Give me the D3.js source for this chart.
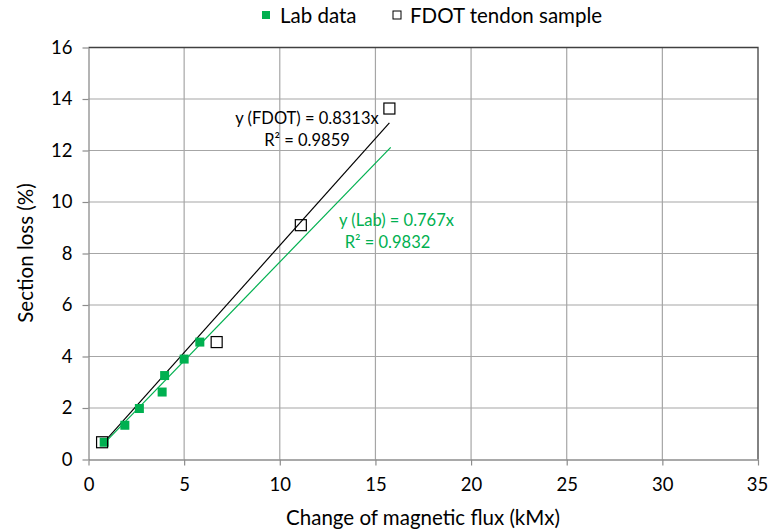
<!DOCTYPE html>
<html><head><meta charset="utf-8">
<script src="https://cdn.jsdelivr.net/npm/d3@7"></script>
<style>body{margin:0;background:#fff}svg{display:block}text{font-family:Lato,"Open Sans",sans-serif}</style>
</head><body><svg id="c" width="768" height="531"></svg>
<script>
const labX = [0.82, 1.9, 2.66, 3.85, 3.98, 5.0, 5.82];
const labY = [0.67, 1.33, 1.98, 2.62, 3.26, 3.9, 4.56];
const fdotX = [0.71, 6.7, 11.1, 15.73];
const fdotY = [0.67, 4.56, 9.1, 13.63];
const labSlope = 0.767, fdotSlope = 0.8313;
const labTrendRange = [0.82, 15.8];
const fdotTrendRange = [0.71, 15.73];
const xTicks = [0,5,10,15,20,25,30,35];
const yTicks = [0,2,4,6,8,10,12,14,16];
const green = "#00B050";

const svg = d3.select("#c");
const L=88.5, R=758, T=47.5, B=459.5;
const x = d3.scaleLinear().domain([0,35]).range([L,R]);
const y = d3.scaleLinear().domain([0,16]).range([B,T]);

// grid
svg.append("g").selectAll("line").data(xTicks.slice(1,-1)).join("line")
  .attr("x1",d=>x(d)).attr("x2",d=>x(d)).attr("y1",T).attr("y2",B)
  .attr("stroke","#a6a6a6").attr("stroke-width",1.2);
svg.append("g").selectAll("line").data(yTicks.slice(1,-1)).join("line")
  .attr("y1",d=>y(d)).attr("y2",d=>y(d)).attr("x1",L).attr("x2",R)
  .attr("stroke","#a6a6a6").attr("stroke-width",1.2);
// border top/right
svg.append("path").attr("d",`M${L},${T}H${R}V${B}`).attr("fill","none").attr("stroke","#404040").attr("stroke-width",1.3);

// axes
const xAxis = svg.append("g").attr("transform",`translate(0,${B})`)
  .call(d3.axisBottom(x).tickValues(xTicks).tickSize(6).tickPadding(12).tickSizeOuter(0));
const yAxis = svg.append("g").attr("transform",`translate(${L},0)`)
  .call(d3.axisLeft(y).tickValues(yTicks).tickSize(6).tickPadding(10).tickSizeOuter(0));
[xAxis,yAxis].forEach(a=>{
  a.select(".domain").attr("stroke","#8c8c8c").attr("stroke-width",1.3);
  a.selectAll(".tick line").attr("stroke","#8c8c8c").attr("stroke-width",1.2);
  a.selectAll(".tick text").attr("font-size",18.5).attr("fill","#000").style("font-family","Lato,'Open Sans',sans-serif");
});
xAxis.selectAll(".tick text").filter(d=>d===35).attr("dx",-1);

// trend lines
svg.append("line").attr("x1",x(fdotTrendRange[0])).attr("y1",y(fdotSlope*fdotTrendRange[0]))
  .attr("x2",x(fdotTrendRange[1])).attr("y2",y(fdotSlope*fdotTrendRange[1]))
  .attr("stroke","#000").attr("stroke-width",1.2);
svg.append("line").attr("x1",x(labTrendRange[0])).attr("y1",y(labSlope*labTrendRange[0]))
  .attr("x2",x(labTrendRange[1])).attr("y2",y(labSlope*labTrendRange[1]))
  .attr("stroke",green).attr("stroke-width",1.2);

// lab points
svg.append("g").selectAll("rect").data(labX.map((v,i)=>[v,labY[i]])).join("rect")
  .attr("x",d=>x(d[0])-4.5).attr("y",d=>y(d[1])-4.5).attr("width",9).attr("height",9)
  .attr("fill",green);
// fdot points
svg.append("g").selectAll("rect").data(fdotX.map((v,i)=>[v,fdotY[i]])).join("rect")
  .attr("x",d=>x(d[0])-5.5).attr("y",d=>y(d[1])-5.5).attr("width",11).attr("height",11)
  .attr("fill","none").attr("stroke","#000").attr("stroke-width",1.2);

// equations
const eq = svg.append("g").attr("font-size",16.5).style("white-space","pre");
eq.append("text").attr("x",307).attr("y",124).attr("text-anchor","middle").text("y (FDOT)  = 0.8313x");
eq.append("text").attr("x",307).attr("y",146).attr("text-anchor","middle").text("R\u00B2 = 0.9859");
eq.append("text").attr("x",396.5).attr("y",226).attr("text-anchor","middle").attr("fill",green).text("y (Lab)  = 0.767x");
eq.append("text").attr("x",387.5).attr("y",248).attr("text-anchor","middle").attr("fill",green).text("R\u00B2 = 0.9832");

// legend
const lg = svg.append("g").attr("font-size",20.5);
lg.append("rect").attr("x",262).attr("y",11).attr("width",8).attr("height",8).attr("fill",green);
lg.append("text").attr("x",280).attr("y",23).text("Lab data");
lg.append("rect").attr("x",393).attr("y",11).attr("width",8).attr("height",8).attr("fill","none").attr("stroke","#000").attr("stroke-width",1);
lg.append("text").attr("x",410).attr("y",23).text("FDOT tendon sample");

// axis titles
svg.append("text").attr("x",423).attr("y",525).attr("text-anchor","middle").attr("font-size",20.5).text("Change of magnetic flux (kMx)");
svg.append("text").attr("transform","translate(33,253) rotate(-90)").attr("text-anchor","middle").attr("font-size",20.5).text("Section loss (%)");
</script></body></html>
